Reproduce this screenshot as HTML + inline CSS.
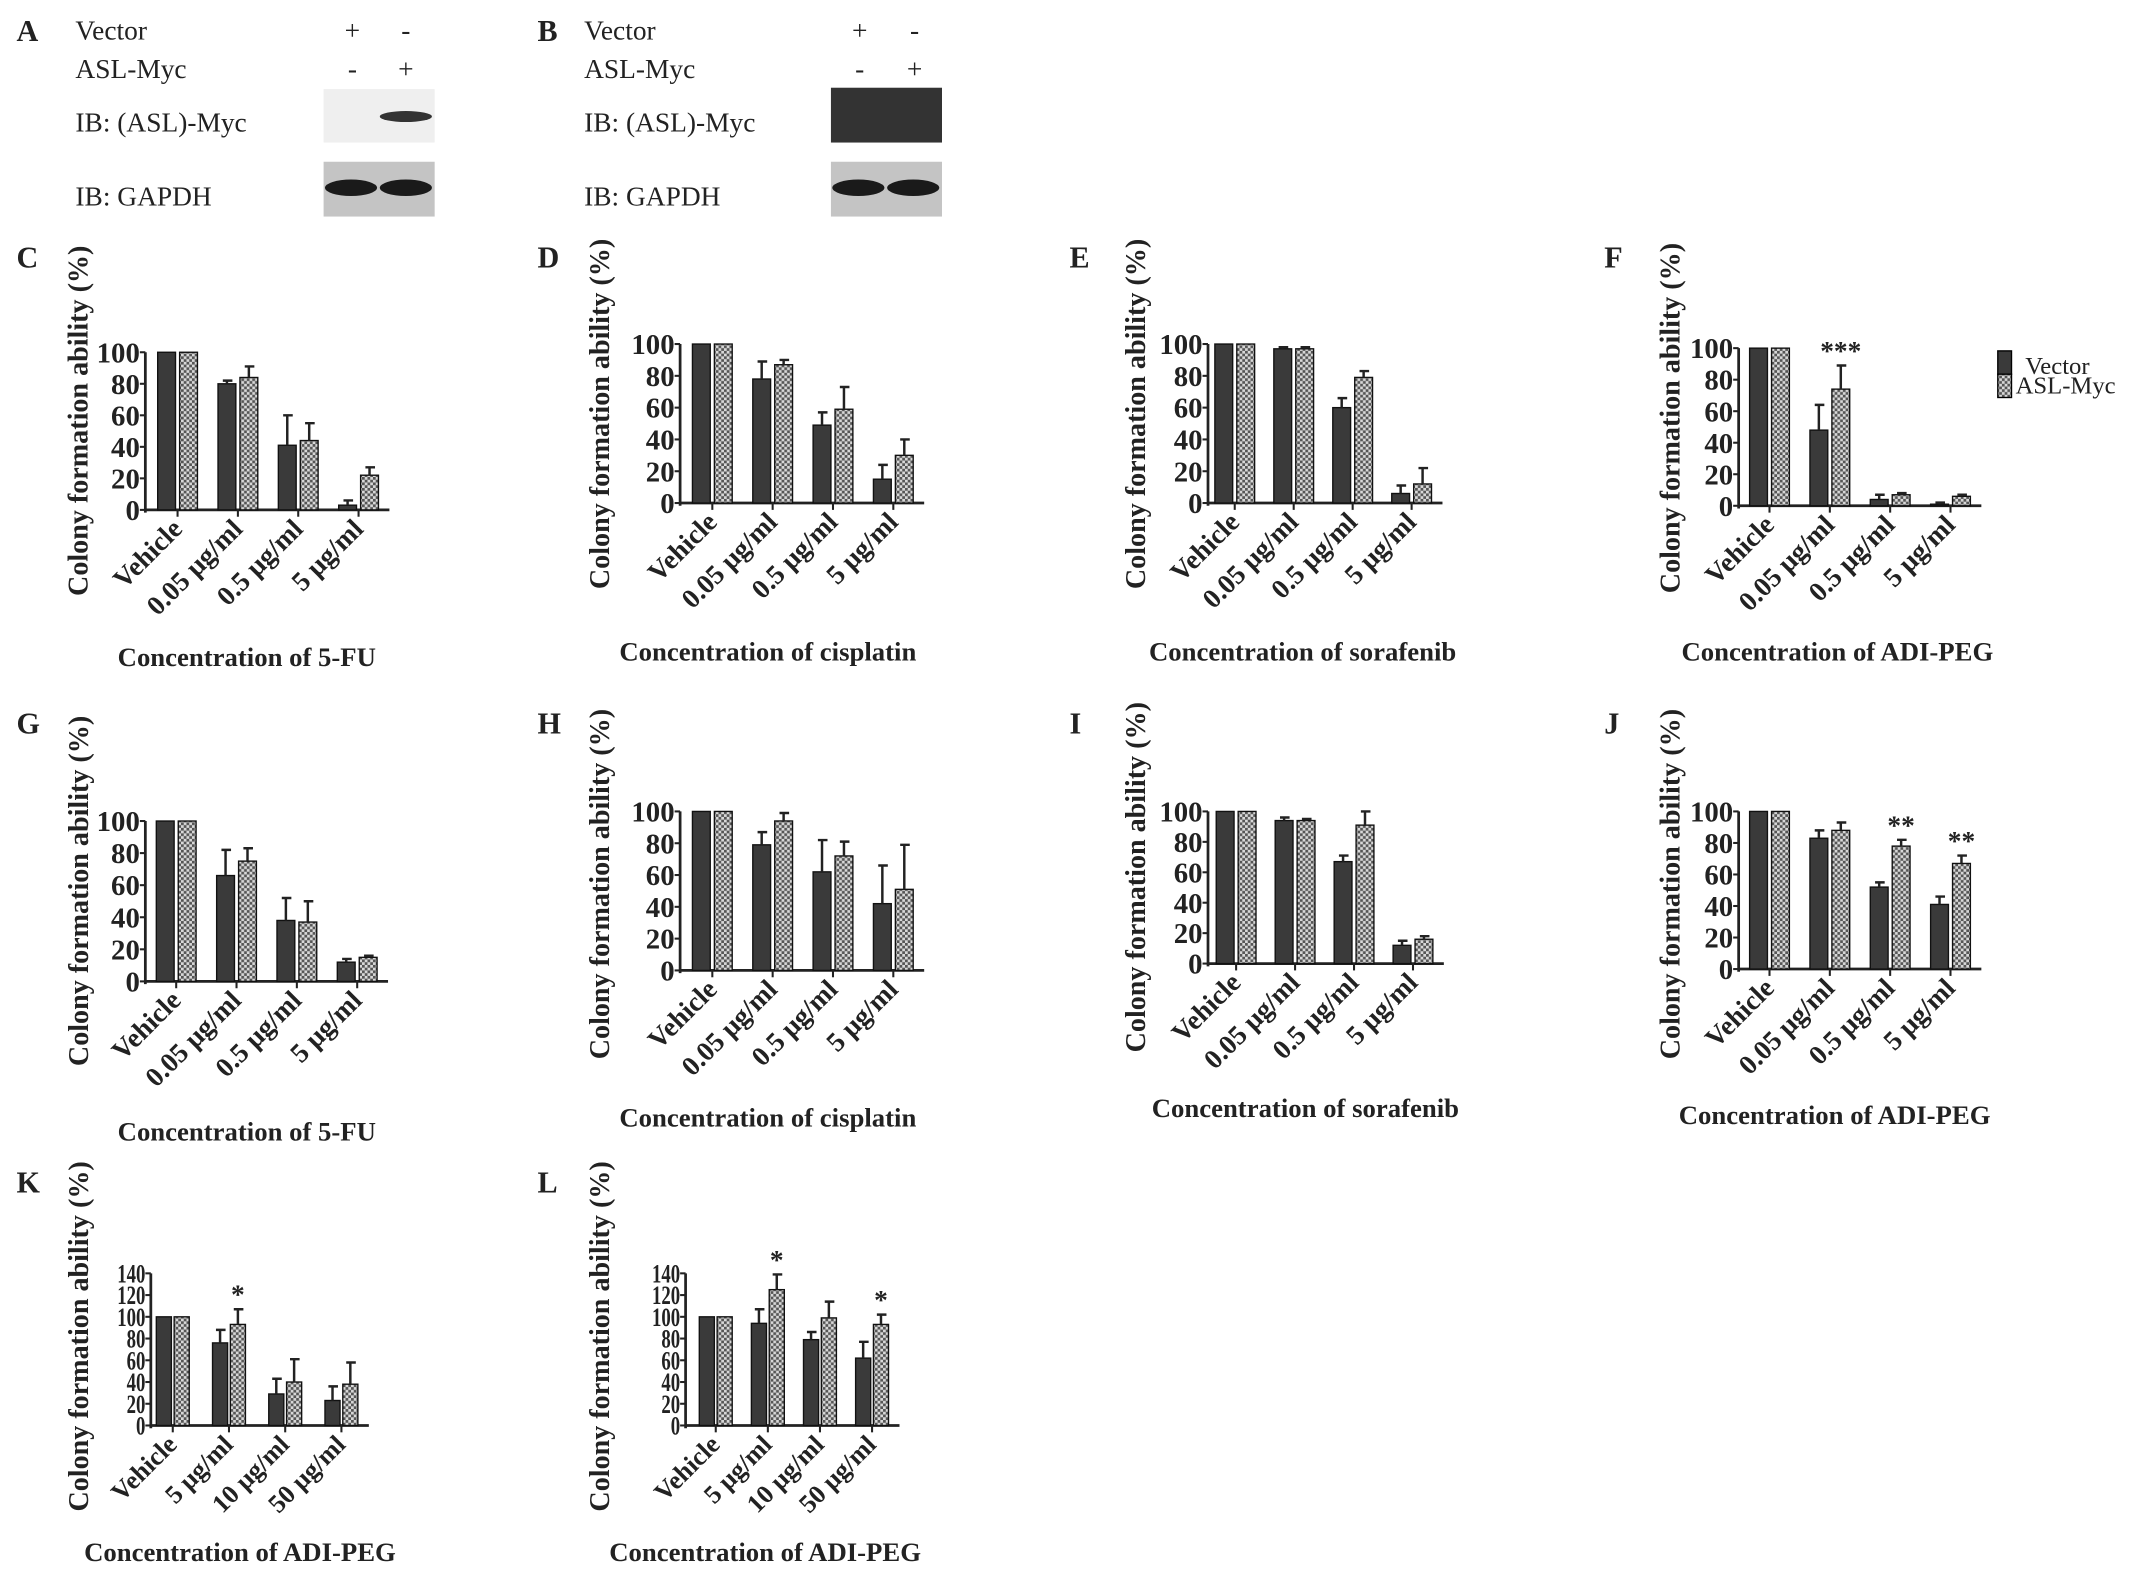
<!DOCTYPE html>
<html><head><meta charset="utf-8"><style>
html,body{margin:0;padding:0;background:#fff}
svg{display:block}
text{font-family:"Liberation Serif",serif;fill:#222}
.b{font-weight:bold}
</style></head><body>
<svg id="fig" width="2150" height="1579" viewBox="0 0 1568 1152" preserveAspectRatio="none" xmlns="http://www.w3.org/2000/svg">
<defs>
<pattern id="hatch" width="4" height="4" patternUnits="userSpaceOnUse">
<rect width="4" height="4" fill="#d8d8d8"/><rect width="2" height="2" fill="#555"/><rect x="2" y="2" width="2" height="2" fill="#555"/>
</pattern>
</defs>
<g>
<text x="12" y="30" class="b" font-size="22">A</text>
<text x="55" y="29" font-size="20">Vector</text>
<text x="55" y="57" font-size="20">ASL-Myc</text>
<text x="257" y="29" font-size="20" text-anchor="middle">+</text><text x="296" y="29" font-size="20" text-anchor="middle">-</text>
<text x="257" y="57" font-size="20" text-anchor="middle">-</text><text x="296" y="57" font-size="20" text-anchor="middle">+</text>
<text x="55" y="96" font-size="20">IB: (ASL)-Myc</text>
<text x="55" y="150" font-size="20">IB: GAPDH</text>
<rect x="236" y="65" width="81" height="39" fill="#efefef"/>
<ellipse cx="296" cy="85" rx="19" ry="4" fill="#333"/>
<rect x="236" y="118" width="81" height="40" fill="#c4c4c4"/>
<ellipse cx="256" cy="137" rx="19" ry="6" fill="#1a1a1a"/><ellipse cx="296" cy="137" rx="19" ry="6" fill="#1a1a1a"/>
</g>
<g>
<text x="392" y="30" class="b" font-size="22">B</text>
<text x="426" y="29" font-size="20">Vector</text>
<text x="426" y="57" font-size="20">ASL-Myc</text>
<text x="627" y="29" font-size="20" text-anchor="middle">+</text><text x="667" y="29" font-size="20" text-anchor="middle">-</text>
<text x="627" y="57" font-size="20" text-anchor="middle">-</text><text x="667" y="57" font-size="20" text-anchor="middle">+</text>
<text x="426" y="96" font-size="20">IB: (ASL)-Myc</text>
<text x="426" y="150" font-size="20">IB: GAPDH</text>
<rect x="606" y="64" width="81" height="40" fill="#333"/>
<rect x="606" y="118" width="81" height="40" fill="#c4c4c4"/>
<ellipse cx="626" cy="137" rx="19" ry="6" fill="#1a1a1a"/><ellipse cx="666" cy="137" rx="19" ry="6" fill="#1a1a1a"/>
</g>
<g>
<rect x="1457" y="256" width="10" height="17" fill="#3a3a3a" stroke="#000"/>
<rect x="1457" y="273" width="10" height="17" fill="url(#hatch)" stroke="#000"/>
<text x="1477" y="273" font-size="18">Vector</text>
<text x="1470" y="287" font-size="18">ASL-Myc</text>
</g>
</svg>
<script>
const catsConc=["Vehicle","0.05 μg/ml","0.5 μg/ml","5 μg/ml"];
const catsADI=["Vehicle","5 μg/ml","10 μg/ml","50 μg/ml"];
const ticks100=[0,20,40,60,80,100];
const ticks140=[0,20,40,60,80,100,120,140];
const vecC=[100,80,41,3], vecCerr=[0,2,19,3], aslC=[100,84,44,22], aslCerr=[0,7,11,5];
const vecD=[100,78,49,15], vecDerr=[0,11,8,9], aslD=[100,87,59,30], aslDerr=[0,3,14,10];
const vecE=[100,97,60,6], vecEerr=[0,1,6,5], aslE=[100,97,79,12], aslEerr=[0,1,4,10];
const vecF=[100,48,4,1], vecFerr=[0,16,3,1], aslF=[100,74,7,6], aslFerr=[0,15,1,1];
const vecG=[100,66,38,12], vecGerr=[0,16,14,2], aslG=[100,75,37,15], aslGerr=[0,8,13,1];
const vecH=[100,79,62,42], vecHerr=[0,8,20,24], aslH=[100,94,72,51], aslHerr=[0,5,9,28];
const vecI=[100,94,67,12], vecIerr=[0,2,4,3], aslI=[100,94,91,16], aslIerr=[0,1,9,2];
const vecJ=[100,83,52,41], vecJerr=[0,5,3,5], aslJ=[100,88,78,67], aslJerr=[0,5,4,5];
const vecK=[100,76,29,23], vecKerr=[0,12,14,13], aslK=[100,93,40,38], aslKerr=[0,14,21,20];
const vecL=[100,94,79,62], vecLerr=[0,13,7,15], aslL=[100,125,99,93], aslLerr=[0,14,15,9];
const starsF=["","***","",""], starsJ=["","","**","**"], starsK=["","*","",""], starsL=["","*","","*"], none=["","","",""];

const NS="http://www.w3.org/2000/svg";
const svg=document.getElementById('fig');
function mk(tag,attrs,parent){const e=document.createElementNS(NS,tag);for(const k in attrs)e.setAttribute(k,attrs[k]);(parent||svg).appendChild(e);return e;}

function panel(p){
  const g=mk('g',{});
  
  
  const ymax=p.ticks[p.ticks.length-1];
  const yS=v=>p.y0-(v/ymax)*(p.y0-p.yTop);
  const lab=mk('text',{x:p.lx,y:p.ly,'font-size':22,class:'b'},g);lab.textContent=p.id;
  
  
  const ya=mk('line',{x1:p.ax,y1:p.yTop,x2:p.ax,y2:p.y0+2,stroke:'#222','stroke-width':2},g);
  
  
  p.ticks.forEach(t=>{
    mk('line',{x1:p.ax-4,y1:yS(t),x2:p.ax,y2:yS(t),stroke:'#222','stroke-width':1.5},g);
    const tt=mk('text',{x:p.ax-4,y:yS(t)+p.tfs*0.35,'font-size':p.tfs,'text-anchor':'end',class:'b',textLength:p.tfs*0.5*String(t).length*p.tsq,lengthAdjust:'spacingAndGlyphs'},g);
    tt.textContent=t;
    
    
  });
  const xEnd=p.bx+p.sp*3+p.bw*2+p.gap+8;
  const xa=mk('line',{x1:p.ax,y1:p.y0,x2:xEnd,y2:p.y0,stroke:'#222','stroke-width':2},g);
  
  
  p.vec.forEach((v,i)=>{
    const x1=p.bx+i*p.sp, x2=x1+p.bw+p.gap;
    [[v,p.vecErr[i],x1,'#3a3a3a','bar-vector'],[p.asl[i],p.aslErr[i],x2,'url(#hatch)','bar-asl-myc']].forEach(([val,err,x,fill,name])=>{
      const r=mk('rect',{x:x,y:yS(val),width:p.bw,height:p.y0-yS(val),fill:fill,stroke:'#111','stroke-width':1},g);
      
      
      if(err>0){
        const cx=x+p.bw/2;
        const e=mk('path',{d:`M${cx} ${yS(val)} V${yS(val+err)} M${cx-3} ${yS(val+err)} H${cx+4}`,stroke:'#222','stroke-width':1.8,fill:'none'},g);
        
        
      }
    });
    mk('line',{x1:x2-p.gap/2,y1:p.y0,x2:x2-p.gap/2,y2:p.y0+5,stroke:'#222','stroke-width':1.5},g);
    if(p.stars[i]){
      const s=mk('text',{x:x2+p.bw/2,y:yS(p.asl[i]+p.aslErr[i])-4,'font-size':20,'text-anchor':'middle',class:'b',fill:'#555'},g);
      s.textContent=p.stars[i];
      
      
    }
    const tx=x2+3, ty=p.y0+15;
    const cl=mk('text',{x:tx,y:ty,'font-size':p.cfs,'text-anchor':'end',class:'b',transform:`rotate(-45 ${tx} ${ty})`},g);
    cl.textContent=p.cats[i];
    
    
  });
  const yt=mk('text',{x:p.ytx,y:p.ytc,'font-size':20.5,'text-anchor':'middle',class:'b',transform:`rotate(-90 ${p.ytx} ${p.ytc})`},g);
  yt.textContent='Colony formation ability (%)';
  
  
  const xt=mk('text',{x:p.xtx,y:p.xty,'font-size':19.5,'text-anchor':'middle',class:'b'},g);
  xt.textContent=p.xt;
  
  
}
const common={bw:13,gap:3,sp:44,ticks:ticks100,tfs:21,tsq:1.0,cfs:20,cats:catsConc};
const P=[
 {id:'C',lx:12,ly:195,ax:106,yTop:257,y0:372,bx:115,ytx:64,ytc:307,xtx:180,xty:486,xt:'Concentration of 5-FU',vec:vecC,vecErr:vecCerr,asl:aslC,aslErr:aslCerr,stars:none},
 {id:'D',lx:392,ly:195,ax:496,yTop:251,y0:367,bx:505,ytx:444,ytc:302,xtx:560,xty:482,xt:'Concentration of cisplatin',vec:vecD,vecErr:vecDerr,asl:aslD,aslErr:aslDerr,stars:none},
 {id:'E',lx:780,ly:195,ax:881,yTop:251,y0:367,bx:886,sp:43,ytx:835,ytc:302,xtx:950,xty:482,xt:'Concentration of sorafenib',vec:vecE,vecErr:vecEerr,asl:aslE,aslErr:aslEerr,stars:none},
 {id:'F',lx:1170,ly:195,ax:1268,yTop:254,y0:369,bx:1276,ytx:1225,ytc:305,xtx:1340,xty:482,xt:'Concentration of ADI-PEG',vec:vecF,vecErr:vecFerr,asl:aslF,aslErr:aslFerr,stars:starsF},
 {id:'G',lx:12,ly:535,ax:106,yTop:599,y0:716,bx:114,ytx:64,ytc:650,xtx:180,xty:832,xt:'Concentration of 5-FU',vec:vecG,vecErr:vecGerr,asl:aslG,aslErr:aslGerr,stars:none},
 {id:'H',lx:392,ly:535,ax:496,yTop:592,y0:708,bx:505,ytx:444,ytc:645,xtx:560,xty:822,xt:'Concentration of cisplatin',vec:vecH,vecErr:vecHerr,asl:aslH,aslErr:aslHerr,stars:none},
 {id:'I',lx:780,ly:535,ax:881,yTop:592,y0:703,bx:887,sp:43,ytx:835,ytc:640,xtx:952,xty:815,xt:'Concentration of sorafenib',vec:vecI,vecErr:vecIerr,asl:aslI,aslErr:aslIerr,stars:none},
 {id:'J',lx:1170,ly:535,ax:1268,yTop:592,y0:707,bx:1276,ytx:1225,ytc:645,xtx:1338,xty:820,xt:'Concentration of ADI-PEG',vec:vecJ,vecErr:vecJerr,asl:aslJ,aslErr:aslJerr,stars:starsJ},
 {id:'K',lx:12,ly:870,ax:110,yTop:929,y0:1040,bx:114,bw:11,gap:2,sp:41,ticks:ticks140,tfs:19,tsq:0.72,cfs:19,cats:catsADI,ytx:64,ytc:975,xtx:175,xty:1139,xt:'Concentration of ADI-PEG',vec:vecK,vecErr:vecKerr,asl:aslK,aslErr:aslKerr,stars:starsK},
 {id:'L',lx:392,ly:870,ax:500,yTop:929,y0:1040,bx:510,bw:11,gap:2,sp:38,ticks:ticks140,tfs:19,tsq:0.72,cfs:19,cats:catsADI,ytx:444,ytc:975,xtx:558,xty:1139,xt:'Concentration of ADI-PEG',vec:vecL,vecErr:vecLerr,asl:aslL,aslErr:aslLerr,stars:starsL}
];
P.forEach(p=>panel(Object.assign({},common,p)));
</script>
</body></html>
